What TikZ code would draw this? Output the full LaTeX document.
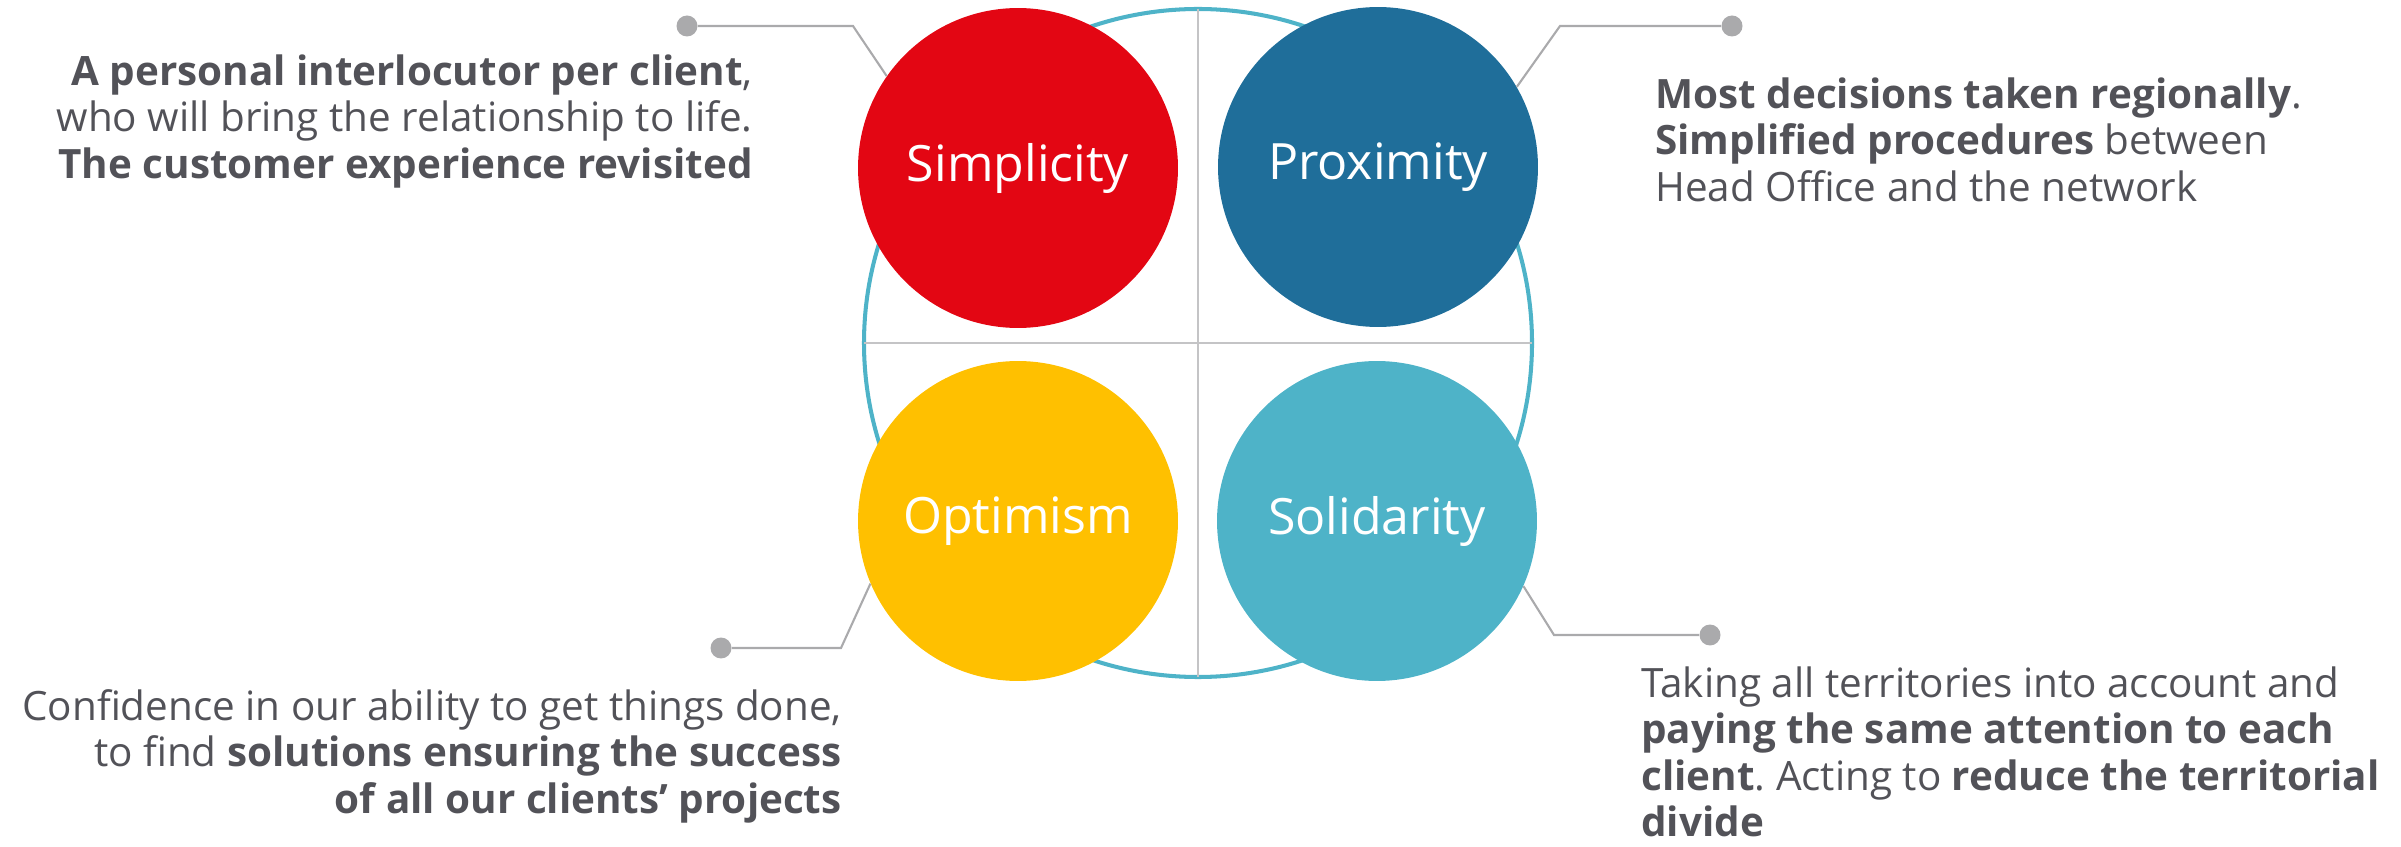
\documentclass[tikz,border=0pt]{standalone}
\usepackage{fontspec}
\setmainfont{Open Sans}
\usetikzlibrary{positioning,calc}
\frenchspacing

\definecolor{simpred}{RGB}{227,6,19}
\definecolor{proxblue}{RGB}{31,110,154}
\definecolor{optyellow}{RGB}{255,192,0}
\definecolor{solteal}{RGB}{78,179,200}
\definecolor{leadgray}{RGB}{170,170,172}
\definecolor{crossgray}{RGB}{196,196,198}
\definecolor{textgray}{RGB}{82,82,88}

\begin{document}
\begin{tikzpicture}[x=0.02cm,y=0.02cm]
  \tikzstyle{value}=[circle,minimum size=6.4cm,inner sep=0pt,text=white,font=\fontsize{28.5}{34}\selectfont]
  \tikzstyle{bullet}=[circle,fill=leadgray,minimum size=0.42cm,inner sep=0pt]
  \tikzstyle{lead}=[draw=leadgray,line width=1.2pt]
  \tikzstyle{blurb}=[inner sep=0pt,text=textgray,font=\fontsize{23}{26.5}\selectfont]
  \useasboundingbox (0,0) rectangle (2401,846);
  \draw (1198,503) node (c){};

  \draw[solteal,line width=2.3pt] (c) circle (334);
  \draw[crossgray,line width=1.1pt] (c)++(0,334) -- ++(0,-668);
  \draw[crossgray,line width=1.1pt] (c)++(-334,0) -- ++(668,0);

  \draw (c)++(-180,175) node[value,fill=simpred] (simp){Simplicity};
  \draw (c)++(180,176) node[value,fill=proxblue] (prox){Proximity};
  \draw (c)++(-180,-178) node[value,fill=optyellow] (opt){Optimism};
  \draw (c)++(179,-178) node[value,fill=solteal] (soli){Solidarity};

  \draw (c)++(-511,317) node[bullet] (pTL){};
  \draw (c)++(-345,317) coordinate (kTL);
  \draw (c)++(534,317) node[bullet] (pTR){};
  \draw (c)++(362,317) coordinate (kTR);
  \draw (c)++(-477,-305) node[bullet] (pBL){};
  \draw (c)++(-357,-305) coordinate (kBL);
  \draw (c)++(512,-292) node[bullet] (pBR){};
  \draw (c)++(356,-292) coordinate (kBR);

  \draw[lead] (pTL) -- (kTL) -- (simp.145);
  \draw[lead] (pTR) -- (kTR) -- (prox.30);
  \draw[lead] (pBL) -- (kBL) -- (opt.-157);
  \draw[lead] (pBR) -- (kBR) -- (soli.-24);

  \draw (c)++(-445,289) node[blurb,anchor=north east,align=right] (tTL){\textbf{A personal interlocutor per client},\\
    who will bring the relationship to life.\\
    \textbf{The customer experience revisited}};
  \draw (c)++(457,266) node[blurb,anchor=north west,align=left] (tTR){\textbf{Most decisions taken regionally}.\\
    \textbf{Simplified procedures} between\\
    Head Office and the network};
  \draw (c)++(-356,-346) node[blurb,anchor=north east,align=right] (tBL){Confidence in our ability to get things done,\\
    to find \textbf{solutions ensuring the success}\\
    \textbf{of all our clients' projects}};
  \draw (c)++(443,-323) node[blurb,anchor=north west,align=left] (tBR){Taking all territories into account and\\
    \textbf{paying the same attention to each}\\
    \textbf{client}. Acting to \textbf{reduce the territorial}\\
    \textbf{divide}};
\end{tikzpicture}
\end{document}
